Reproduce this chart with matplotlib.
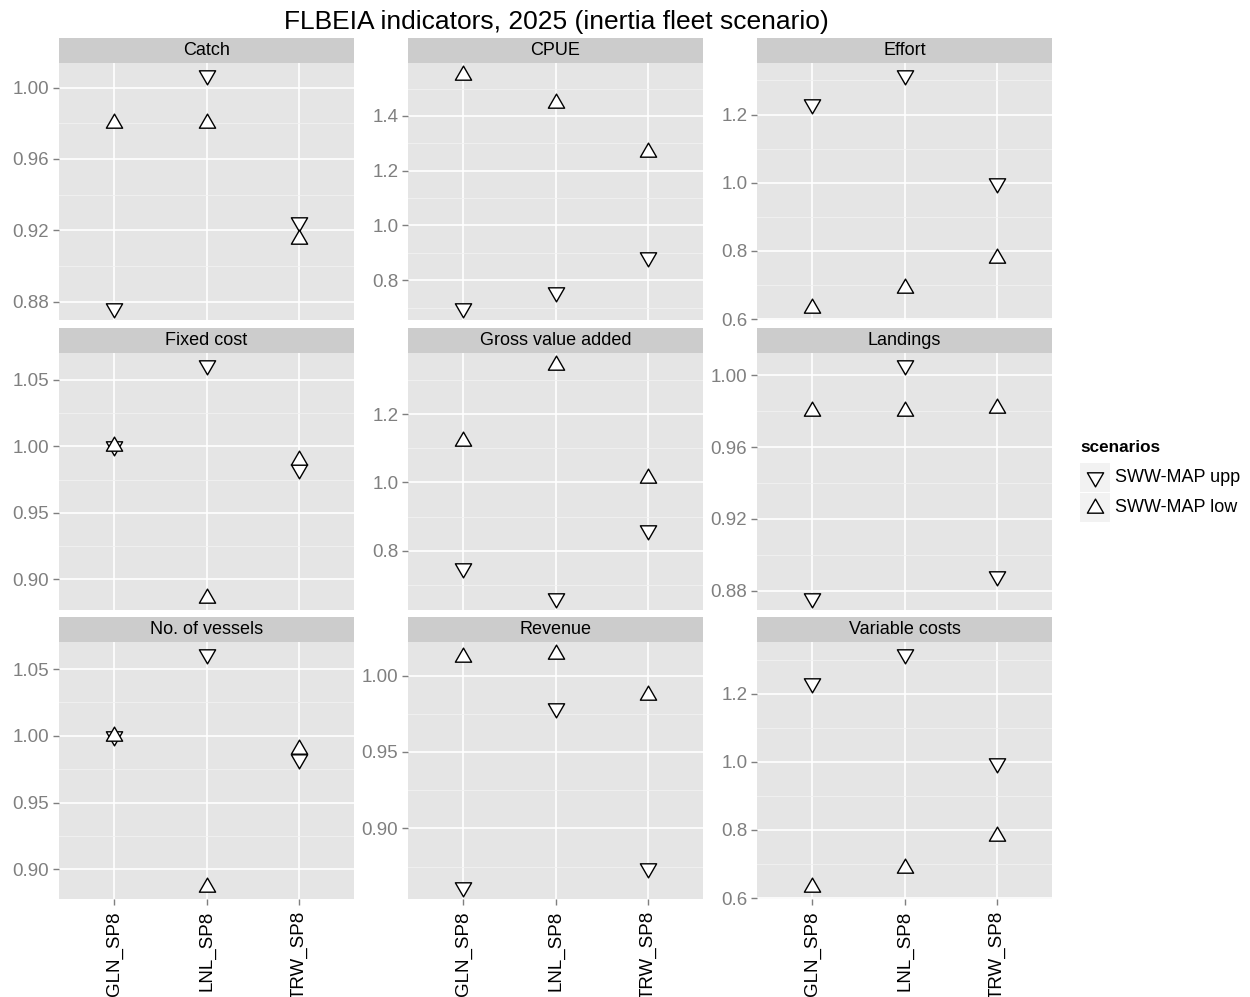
import matplotlib
matplotlib.use('Agg')
import matplotlib.pyplot as plt
from matplotlib.path import Path
from matplotlib.markers import MarkerStyle
from matplotlib.patches import Rectangle
from matplotlib.ticker import MultipleLocator, FormatStrFormatter

plt.rcParams['font.family'] = ['Liberation Sans', 'DejaVu Sans']

# dane
indicators = ['Catch', 'CPUE', 'Effort',
              'Fixed cost', 'Gross value added', 'Landings',
              'No. of vessels', 'Revenue', 'Variable costs']
fleets = ['GLN_SP8', 'LNL_SP8', 'TRW_SP8']
scenarios = ['SWW-MAP upp', 'SWW-MAP low']

upp_values = [
    [0.8767, 1.0072, 0.9245],
    [0.699, 0.757, 0.883],
    [1.232, 1.317, 0.998],
    [1.000, 1.0615, 0.983],
    [0.748, 0.662, 0.860],
    [0.876, 1.006, 0.888],
    [1.000, 1.0615, 0.983],
    [0.8617, 0.9786, 0.874],
    [1.232, 1.318, 0.998],
]
low_values = [
    [0.980, 0.980, 0.9155],
    [1.551, 1.447, 1.267],
    [0.633, 0.690, 0.780],
    [1.000, 0.886, 0.990],
    [1.121, 1.345, 1.014],
    [0.980, 0.980, 0.9816],
    [1.000, 0.887, 0.990],
    [1.0123, 1.0143, 0.987],
    [0.633, 0.687, 0.782],
]
tick_steps = [0.04, 0.2, 0.2, 0.05, 0.2, 0.04, 0.05, 0.05, 0.2]
tick_formats = ['%.2f', '%.1f', '%.1f', '%.2f', '%.1f', '%.2f', '%.2f', '%.2f', '%.1f']

# trojkaty jak w R (srodek ciezkosci w punkcie)
tri_up = MarkerStyle(Path([(0, 1), (-0.866, -0.5), (0.866, -0.5), (0, 1)],
                          [Path.MOVETO, Path.LINETO, Path.LINETO, Path.CLOSEPOLY]))
tri_down = MarkerStyle(Path([(0, -1), (-0.866, 0.5), (0.866, 0.5), (0, -1)],
                            [Path.MOVETO, Path.LINETO, Path.LINETO, Path.CLOSEPOLY]))
msize = 13.5
mew = 1.0

W, H = 1250, 997
fig = plt.figure(figsize=(W / 100, H / 100), dpi=100)


def fx(px):
    return px / W


def fy(py):
    return 1 - py / H


col_left = [59, 408, 757]
panel_w = 295
strip_top = [38, 328, 617]
strip_h = 25
panel_h = 256.5

for i, name in enumerate(indicators):
    r, c = divmod(i, 3)
    left = col_left[c]
    ptop = strip_top[r] + strip_h
    ax = fig.add_axes([fx(left), fy(ptop + panel_h), panel_w / W, panel_h / H])
    ax.set_facecolor('#E5E5E5')
    for s in ax.spines.values():
        s.set_visible(False)

    xs = range(len(fleets))
    ax.plot(xs, upp_values[i], linestyle='none', marker=tri_down, markersize=msize,
            markerfacecolor='white', markeredgecolor='black', markeredgewidth=mew, zorder=3)
    ax.plot(xs, low_values[i], linestyle='none', marker=tri_up, markersize=msize,
            markerfacecolor='white', markeredgecolor='black', markeredgewidth=mew, zorder=3)

    ax.set_xlim(-0.6, 2.6)
    ax.margins(y=0.05)
    ax.yaxis.set_major_locator(MultipleLocator(tick_steps[i]))
    ax.yaxis.set_minor_locator(MultipleLocator(tick_steps[i] / 2))
    ax.yaxis.set_major_formatter(FormatStrFormatter(tick_formats[i]))
    ax.set_xticks(list(xs))

    ax.grid(which='major', color='white', linewidth=1.2, zorder=0)
    ax.grid(which='minor', axis='y', color='#F2F2F2', linewidth=0.6, zorder=0)
    ax.set_axisbelow(True)
    ax.tick_params(axis='y', which='major', colors='#7F7F7F', labelcolor='#7F7F7F',
                   labelsize=13.5, length=4, width=1, pad=3)
    ax.tick_params(axis='y', which='minor', length=0)
    if r == 2:
        ax.set_xticklabels(fleets, rotation=90, fontsize=13.5, color='black')
        ax.tick_params(axis='x', colors='#7F7F7F', labelcolor='black', length=4, width=1, pad=5)
    else:
        ax.tick_params(axis='x', length=0, labelbottom=False)

    # pasek z nazwa wskaznika
    sax = fig.add_axes([fx(left), fy(strip_top[r] + strip_h), panel_w / W, strip_h / H])
    sax.set_facecolor('#CCCCCC')
    sax.set_xticks([])
    sax.set_yticks([])
    for s in sax.spines.values():
        s.set_visible(False)
    sax.text(0.5, 0.5, name, ha='center', va='center', fontsize=13, color='black',
             transform=sax.transAxes)

fig.text(fx(556), fy(22), 'FLBEIA indicators, 2025 (inertia fleet scenario)',
         ha='center', va='center', fontsize=19)

# legenda
fig.text(fx(1080), fy(447), 'scenarios', ha='left', va='center', fontsize=12.3, fontweight='bold')
lax = fig.add_axes([fx(1080), fy(523), 30 / W, 61 / H])
lax.set_xlim(0, 1)
lax.set_ylim(0, 2)
lax.axis('off')
lax.add_patch(Rectangle((0, 1.02), 1, 0.96, facecolor='#F2F2F2', edgecolor='none'))
lax.add_patch(Rectangle((0, 0.02), 1, 0.96, facecolor='#F2F2F2', edgecolor='none'))
lax.plot([0.5], [1.5], marker=tri_down, markersize=msize, markerfacecolor='white',
         markeredgecolor='black', markeredgewidth=mew, linestyle='none')
lax.plot([0.5], [0.5], marker=tri_up, markersize=msize, markerfacecolor='white',
         markeredgecolor='black', markeredgewidth=mew, linestyle='none')
fig.text(fx(1115), fy(477), scenarios[0], ha='left', va='center', fontsize=13)
fig.text(fx(1115), fy(508), scenarios[1], ha='left', va='center', fontsize=13)

plt.savefig('out.png', dpi=100)
